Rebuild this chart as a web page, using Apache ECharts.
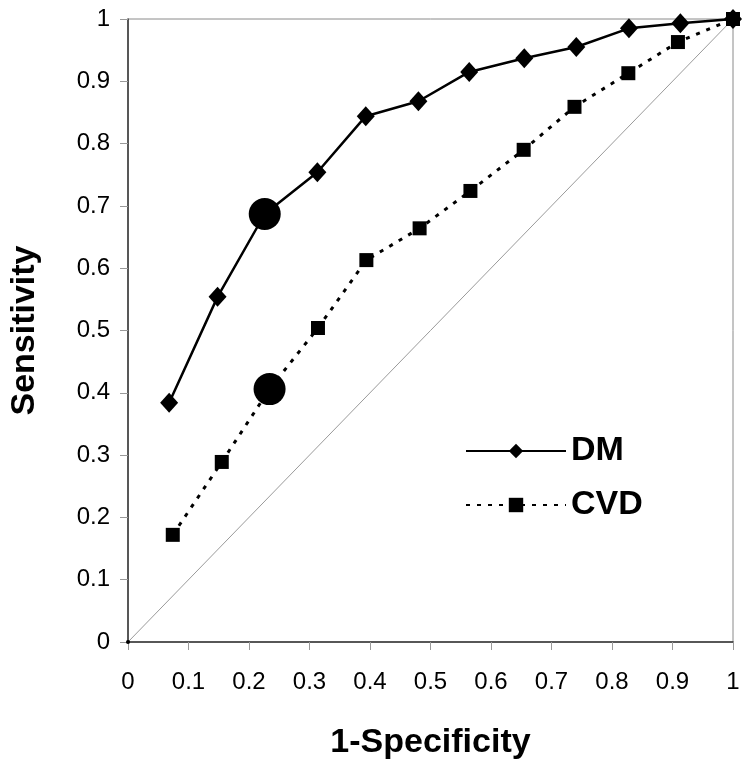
<!DOCTYPE html>
<html>
<head>
<meta charset="utf-8">
<script src="https://cdn.jsdelivr.net/npm/echarts@6/dist/echarts.min.js"></script>
<style>
html,body{margin:0;padding:0;background:#fff;}
#chart{width:750px;height:779px;}
</style>
</head>
<body>
<div id="chart"></div>
<script>
// ---- data ----
const xTickLabels = ['0','0.1','0.2','0.3','0.4','0.5','0.6','0.7','0.8','0.9','1'];
const yTickLabels = ['0','0.1','0.2','0.3','0.4','0.5','0.6','0.7','0.8','0.9','1'];
const seriesNames = ['DM', 'CVD'];
const dmX  = [0.068, 0.148, 0.226, 0.313, 0.393, 0.480, 0.564, 0.655, 0.741, 0.828, 0.913, 1.0];
const dmY  = [0.384, 0.554, 0.687, 0.754, 0.844, 0.868, 0.915, 0.937, 0.955, 0.985, 0.993, 1.0];
const cvdX = [0.074, 0.155, 0.234, 0.314, 0.394, 0.482, 0.566, 0.654, 0.738, 0.827, 0.909, 1.0];
const cvdY = [0.172, 0.289, 0.406, 0.504, 0.613, 0.664, 0.724, 0.790, 0.859, 0.913, 0.963, 1.0];
const refX = [0, 1];
const refY = [0, 1];
const cutoffIndex = 2; // highlighted optimal cut-off point (big circle)

const FONT = '"Liberation Sans", Arial, Helvetica, sans-serif';

function buildData(xs, ys) {
  return xs.map((x, i) => {
    const item = { value: [x, ys[i]] };
    if (i === cutoffIndex) { item.symbol = 'circle'; item.symbolSize = 32; }
    return item;
  });
}

const chart = echarts.init(document.getElementById('chart'), null, { renderer: 'canvas' });
chart.setOption({
  backgroundColor: '#fff',
  animation: false,
  grid: { left: 127, right: 17, top: 19, bottom: 137, show: true, borderColor: '#8a8a8a', borderWidth: 1 },
  xAxis: {
    type: 'value', min: 0, max: 1, interval: 0.1,
    name: '1-Specificity', nameLocation: 'middle', nameGap: 84,
    nameTextStyle: { fontFamily: FONT, fontSize: 34, fontWeight: 'bold', color: '#000' },
    axisLine: { show: true, onZero: false, lineStyle: { color: '#333', width: 1.5 } },
    axisTick: { show: true, length: 8, lineStyle: { color: '#999' } },
    splitLine: { show: false },
    axisLabel: { margin: 28, fontFamily: FONT, fontSize: 24, color: '#000',
      formatter: (v) => xTickLabels[Math.round(v * 10)] }
  },
  yAxis: {
    type: 'value', min: 0, max: 1, interval: 0.1,
    name: 'Sensitivity', nameLocation: 'middle', nameGap: 86,
    nameTextStyle: { fontFamily: FONT, fontSize: 34, fontWeight: 'bold', color: '#000' },
    axisLine: { show: true, onZero: false, lineStyle: { color: '#333', width: 1.5 } },
    axisTick: { show: true, length: 8, lineStyle: { color: '#999' } },
    splitLine: { show: false },
    axisLabel: { margin: 18, fontFamily: FONT, fontSize: 24, color: '#000',
      formatter: (v) => yTickLabels[Math.round(v * 10)] }
  },
  legend: {
    data: seriesNames, orient: 'vertical', left: 465, top: 433, padding: 0,
    itemWidth: 100, itemHeight: 18, itemGap: 18,
    textStyle: { fontFamily: FONT, fontSize: 34, fontWeight: 'bold', color: '#000', lineHeight: 36 }
  },
  series: [
    {
      name: 'ref', type: 'line', silent: true,
      data: refX.map((x, i) => [x, refY[i]]),
      symbol: 'circle', symbolSize: [4, 4], showSymbol: true,
      itemStyle: { color: '#000' },
      lineStyle: { color: '#9a9a9a', width: 1 }, z: 1
    },
    {
      name: seriesNames[0], type: 'line',
      data: buildData(dmX, dmY),
      symbol: 'diamond', symbolSize: [18, 20],
      itemStyle: { color: '#000' },
      lineStyle: { color: '#000', width: 2.5 }, z: 3
    },
    {
      name: seriesNames[1], type: 'line',
      data: buildData(cvdX, cvdY),
      symbol: 'rect', symbolSize: 14,
      itemStyle: { color: '#000' },
      lineStyle: { color: '#000', width: 3, type: [4, 7] }, z: 4
    }
  ]
});
</script>
</body>
</html>
